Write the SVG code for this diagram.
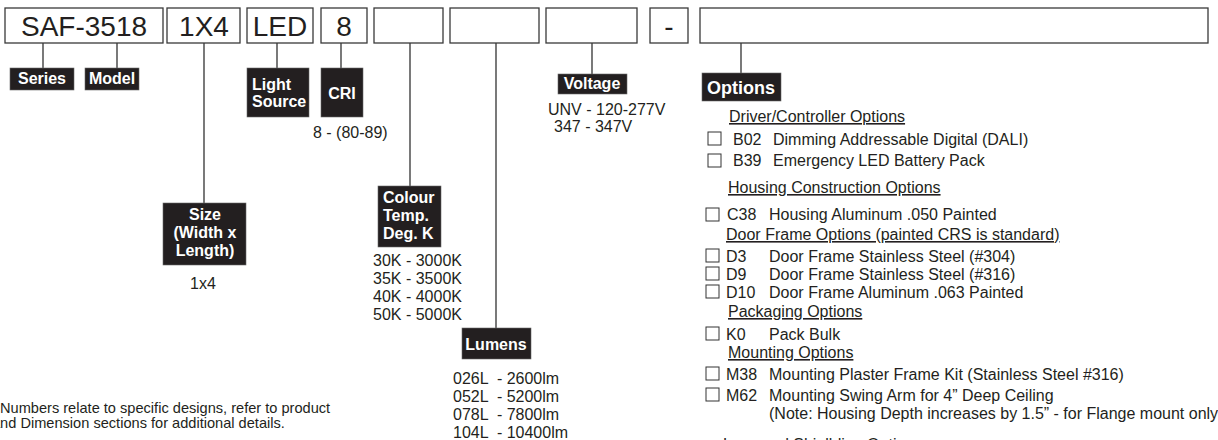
<svg xmlns="http://www.w3.org/2000/svg" width="1218" height="440" viewBox="0 0 1218 440">
<style>
.box{fill:#fff;stroke:#3a3a3a;stroke-width:1.3}
.bt{font-family:"Liberation Sans",Arial,sans-serif;font-size:28px;fill:#231f20;text-anchor:middle}
.lab{fill:#231f20;stroke:#6a6a6a;stroke-width:0.6}
.lt{font-family:"Liberation Sans",Arial,sans-serif;font-size:16px;font-weight:bold;fill:#fff}
.c{text-anchor:middle}
.t{font-family:"Liberation Sans",Arial,sans-serif;font-size:16px;fill:#231f20}
.s{font-size:14.6px}
.u{text-decoration:underline}
.cb{fill:#fff;stroke:#333;stroke-width:1}
.con{stroke:#333;stroke-width:1.3;fill:none}
</style>
<rect width="1218" height="440" fill="#fff"/>
<g id="connectors">
<path class="con" d="M43 43V68M117 43V68M204 43V203M277 43V68M341 43V68M410 43V186M496 43V328M592 43V74M741 43V73"/>
</g>
<g id="box-series"><rect class="box" x="5" y="8" width="158" height="35"/><text class="bt" x="84" y="35.5">SAF-3518</text></g>
<g id="box-size"><rect class="box" x="167" y="8" width="73" height="35"/><text class="bt" x="204" y="35.5">1X4</text></g>
<g id="box-light"><rect class="box" x="247" y="8" width="66" height="35"/><text class="bt" x="280" y="35.5">LED</text></g>
<g id="box-cri"><rect class="box" x="321" y="8" width="46" height="35"/><text class="bt" x="344" y="35.5">8</text></g>
<g id="box-colour"><rect class="box" x="374" y="8" width="69" height="35"/></g>
<g id="box-lumens"><rect class="box" x="450" y="8" width="89" height="35"/></g>
<g id="box-voltage"><rect class="box" x="546" y="8" width="91" height="35"/></g>
<g id="box-dash"><rect class="box" x="650" y="8" width="38" height="35"/><text class="bt" x="669" y="35.5">-</text></g>
<g id="box-options"><rect class="box" x="700" y="8" width="508" height="35"/></g>

<g id="label-series"><rect class="lab" x="10" y="68" width="64" height="22"/><text class="lt c" x="42" y="84">Series</text></g>
<g id="label-model"><rect class="lab" x="85" y="68" width="54" height="22"/><text class="lt c" x="112" y="84">Model</text></g>
<g id="label-light"><rect class="lab" x="247" y="68" width="62" height="49"/><text class="lt" x="252" y="90">Light</text><text class="lt" x="252" y="107">Source</text></g>
<g id="label-cri"><rect class="lab" x="321" y="68" width="42" height="49"/><text class="lt c" x="342" y="99">CRI</text><text class="t" x="313" y="138">8 - (80-89)</text></g>
<g id="label-size"><rect class="lab" x="163" y="203" width="83" height="62"/><text class="lt c" x="205" y="220">Size</text><text class="lt c" x="205" y="238">(Width x</text><text class="lt c" x="205" y="256">Length)</text><text class="t c" x="203" y="289">1x4</text></g>
<g id="label-colour"><rect class="lab" x="378" y="186" width="63" height="61"/><text class="lt" x="383" y="203">Colour</text><text class="lt" x="383" y="221">Temp.</text><text class="lt" x="383" y="239">Deg. K</text>
<text class="t" x="373" y="266">30K - 3000K</text><text class="t" x="373" y="284">35K - 3500K</text><text class="t" x="373" y="302">40K - 4000K</text><text class="t" x="373" y="320">50K - 5000K</text></g>
<g id="label-lumens"><rect class="lab" x="462" y="328" width="69" height="31"/><text class="lt c" x="496" y="350">Lumens</text>
<text class="t" x="453" y="384" style="white-space:pre">026L  - 2600lm</text><text class="t" x="453" y="402" style="white-space:pre">052L  - 5200lm</text><text class="t" x="453" y="420" style="white-space:pre">078L  - 7800lm</text><text class="t" x="453" y="438" style="white-space:pre">104L  - 10400lm</text></g>
<g id="label-voltage"><rect class="lab" x="558" y="74" width="69" height="20"/><text class="lt c" x="592" y="89">Voltage</text><text class="t" x="548" y="115">UNV - 120-277V</text><text class="t" x="554" y="132">347 - 347V</text></g>
<g id="label-options"><rect class="lab" x="702" y="73" width="79" height="28"/><text class="lt" x="707" y="94" style="font-size:18px">Options</text>
<text class="t u" x="729" y="122">Driver/Controller Options</text>
<rect class="cb" x="708" y="132" width="13" height="13"/><text class="t" x="733" y="145">B02</text><text class="t" x="773" y="145">Dimming Addressable Digital (DALI)</text>
<rect class="cb" x="708" y="154" width="13" height="13"/><text class="t" x="733" y="166">B39</text><text class="t" x="773" y="166">Emergency LED Battery Pack</text>
<text class="t u" x="728" y="193">Housing Construction Options</text>
<rect class="cb" x="706" y="208" width="13" height="13"/><text class="t" x="727" y="220">C38</text><text class="t" x="769" y="220">Housing Aluminum .050 Painted</text>
<text class="t u" x="726" y="240">Door Frame Options (painted CRS is standard)</text>
<rect class="cb" x="706" y="249" width="13" height="13"/><text class="t" x="726" y="262">D3</text><text class="t" x="769" y="262">Door Frame Stainless Steel (#304)</text>
<rect class="cb" x="706" y="267" width="13" height="13"/><text class="t" x="726" y="280">D9</text><text class="t" x="769" y="280">Door Frame Stainless Steel (#316)</text>
<rect class="cb" x="706" y="285" width="13" height="13"/><text class="t" x="726" y="298">D10</text><text class="t" x="769" y="298">Door Frame Aluminum .063 Painted</text>
<text class="t u" x="728" y="317">Packaging Options</text>
<rect class="cb" x="706" y="327" width="13" height="13"/><text class="t" x="726" y="340">K0</text><text class="t" x="769" y="340">Pack Bulk</text>
<text class="t u" x="728" y="358">Mounting Options</text>
<rect class="cb" x="706" y="367" width="13" height="13"/><text class="t" x="726" y="380">M38</text><text class="t" x="769" y="380">Mounting Plaster Frame Kit (Stainless Steel #316)</text>
<rect class="cb" x="706" y="388" width="13" height="13"/><text class="t" x="726" y="401">M62</text><text class="t" x="769" y="401">Mounting Swing Arm for 4” Deep Ceiling</text>
<text class="t" x="769" y="419">(Note: Housing Depth increases by 1.5” - for Flange mount only</text>
<text class="t u" x="723" y="450">Lens and Shiellding Options</text></g>
<g id="note"><text class="t s" x="0" y="413">Numbers relate to specific designs, refer to product</text><text class="t s" x="-8" y="428">and Dimension sections for additional details.</text></g>
</svg>
